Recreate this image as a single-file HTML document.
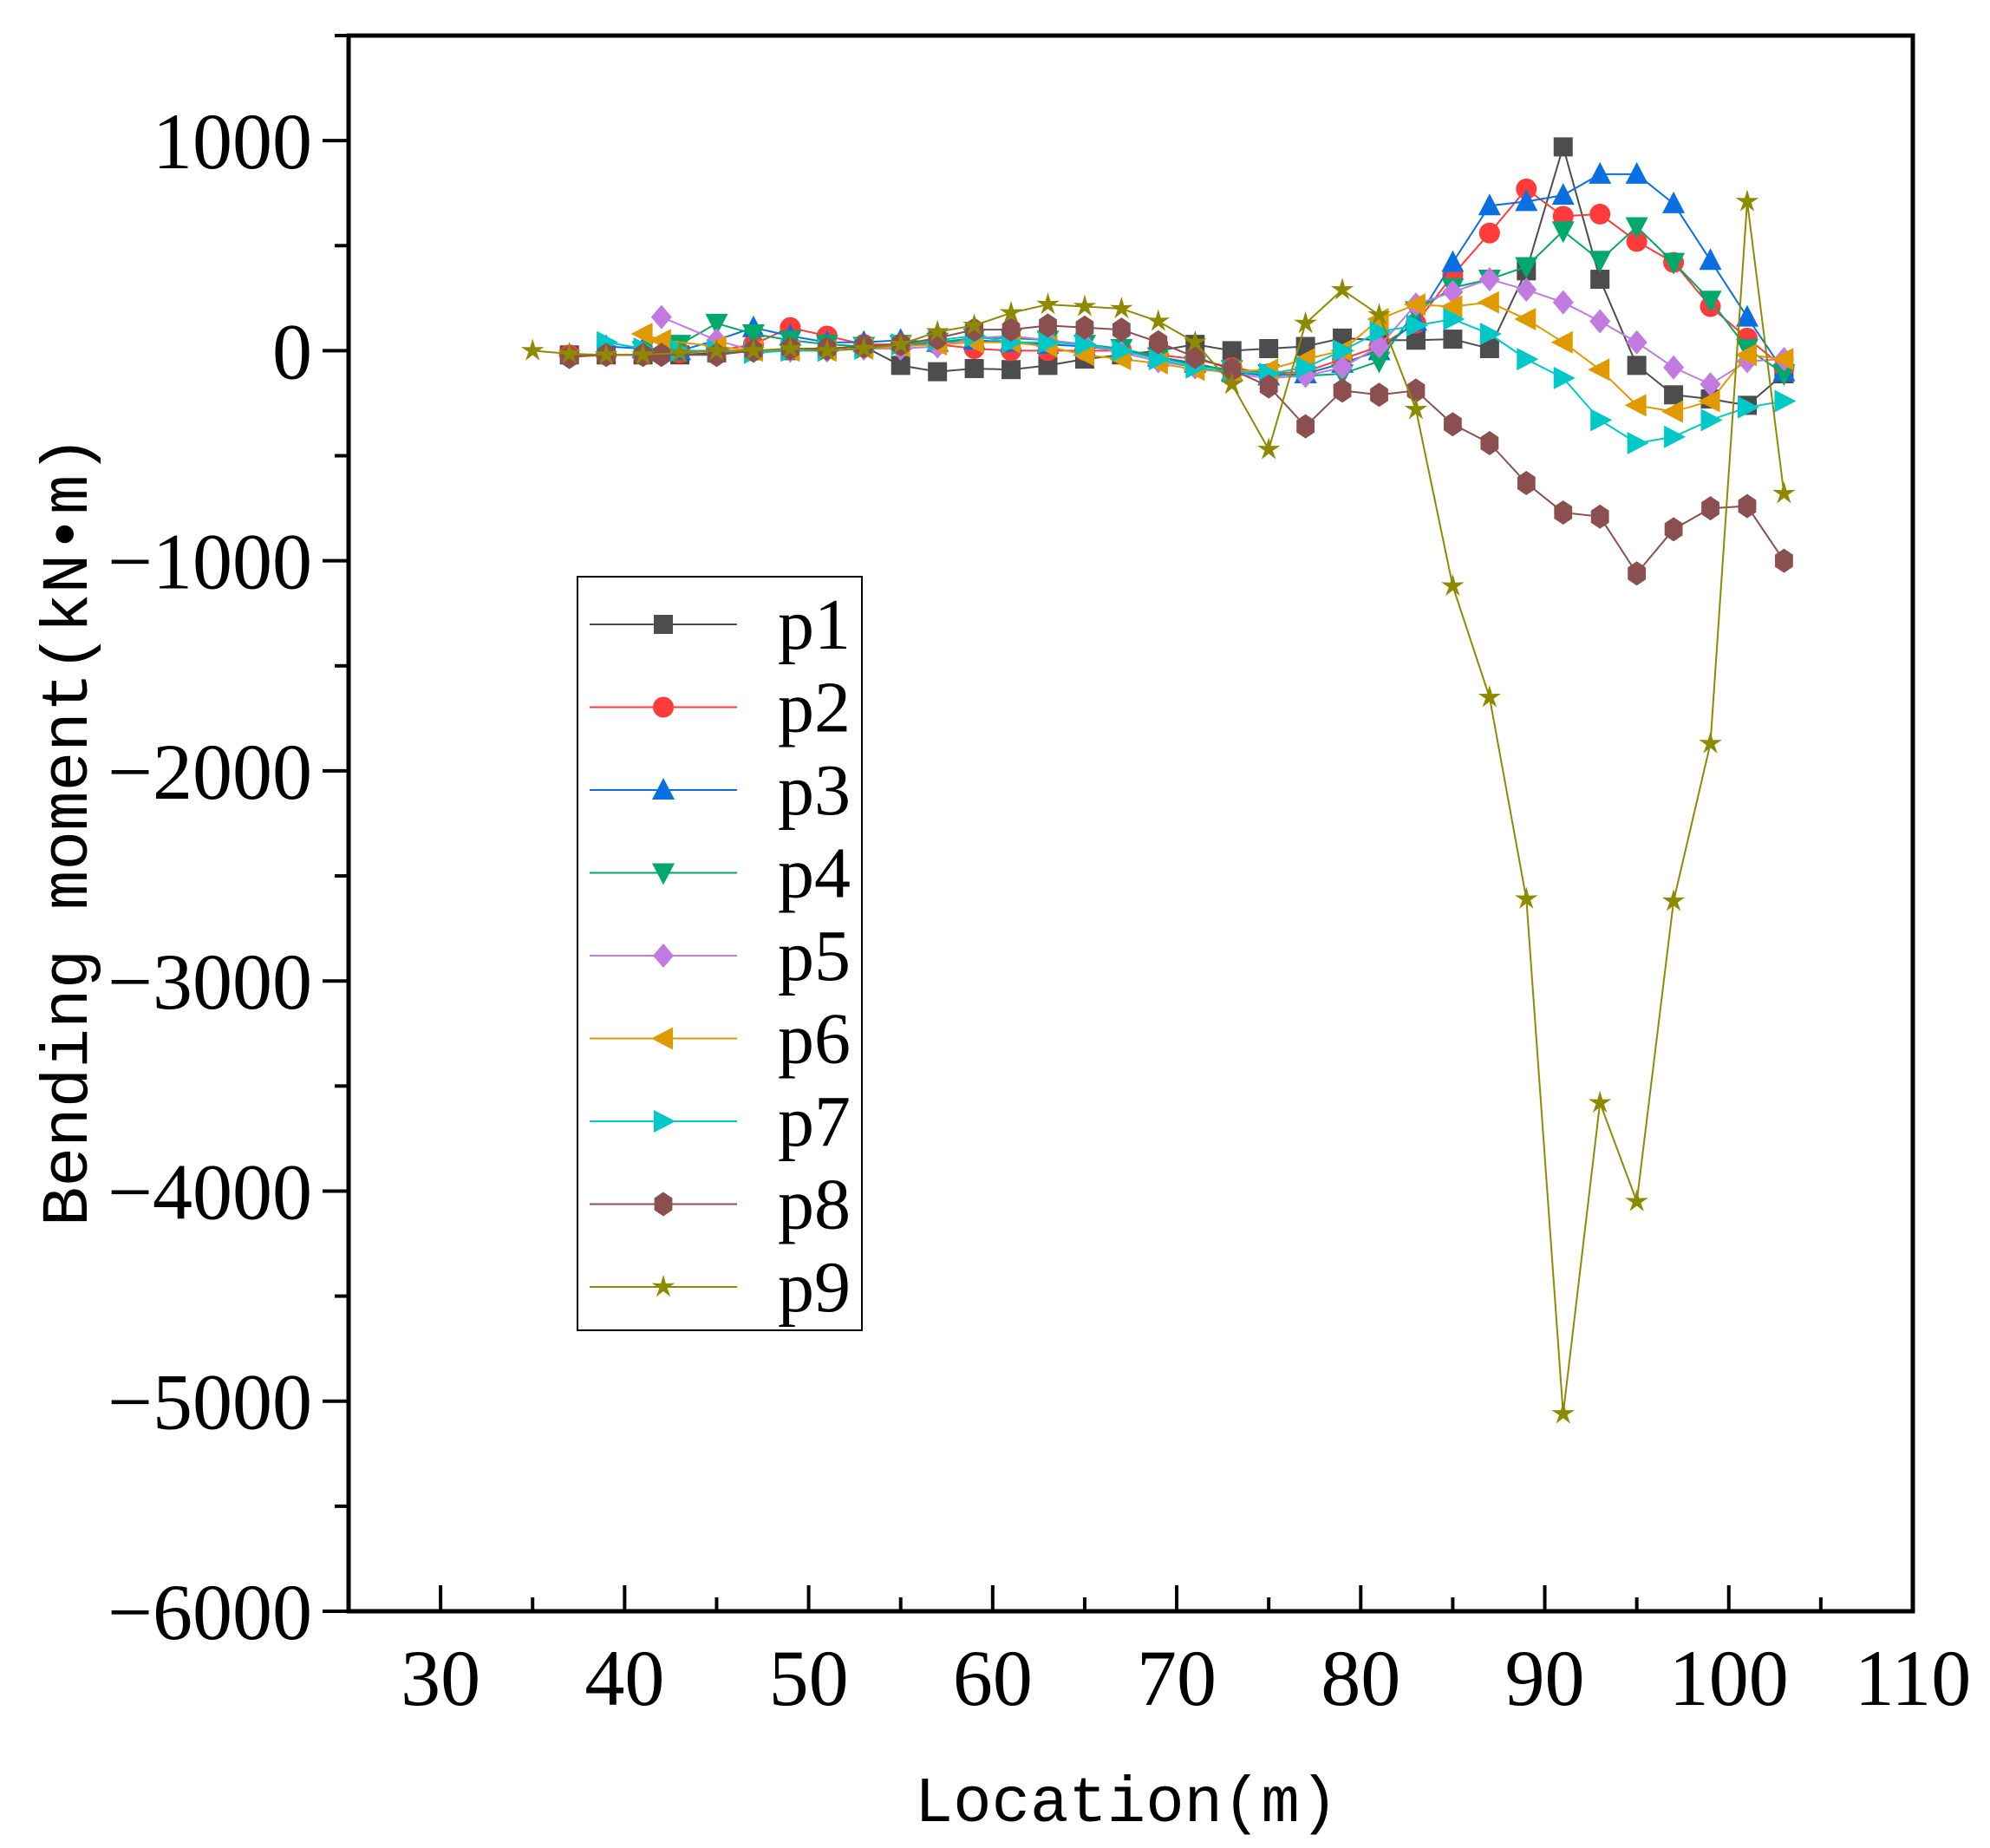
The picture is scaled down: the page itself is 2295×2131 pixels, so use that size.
<!DOCTYPE html>
<html><head><meta charset="utf-8"><style>
html,body{margin:0;padding:0;background:#fff}
svg{display:block}
text{font-family:"Liberation Serif","Noto Serif CJK SC",serif;fill:#000}
.tt{font-family:"Liberation Mono","Noto Sans CJK SC",monospace}
</style></head><body>
<svg id="chart" width="2295" height="2131" viewBox="0 0 2295 2131" xmlns="http://www.w3.org/2000/svg">
<g id="axes"></g>
<g id="series"></g>
<g id="legend"></g>
</svg>
<script>
const xTicks=[30,40,50,60,70,80,90,100,110];
const yTicks=[1000,0,-1000,-2000,-3000,-4000,-5000,-6000];
const seriesNames=["p1","p2","p3","p4","p5","p6","p7","p8","p9"];
const p1X=[37,39,41,43,45,47,49,51,53,55,57,59,61,63,65,67,69,71,73,75,77,79,81,83,85,87,89,91,93,95,97,99,101,103];
const p1Y=[-20,-20,-20,-20,-10,0,0,10,20,-70,-100,-85,-90,-70,-40,-20,0,30,0,10,20,60,50,50,55,10,380,970,340,-70,-210,-230,-260,-110];
const p2X=[37,39,41,43,45,47,49,51,53,55,57,59,61,63,65,67,69,71,73,75,77,79,81,83,85,87,89,91,93,95,97,99,101,103];
const p2Y=[-20,-20,-20,-10,0,30,110,70,30,30,30,10,0,0,0,0,-20,-40,-80,-110,-100,-40,20,130,360,560,770,640,650,520,420,210,60,-80];
const p3X=[39,41,43,45,47,49,51,53,55,57,59,61,63,65,67,69,71,73,75,77,79,81,83,85,87,89,91,93,95,97,99,101,103];
const p3Y=[20,10,0,50,110,70,40,40,50,40,50,40,30,20,0,-30,-60,-100,-120,-110,-60,0,140,420,690,710,740,840,840,700,430,160,-100];
const p4X=[41,43,45,47,49,51,53,55,57,59,61,63,65,67,69,71,73,75,77,79,81,83,85,87,89,91,93,95,97,99,101,103];
const p4Y=[0,30,130,80,50,30,20,30,40,60,60,50,30,10,-30,-70,-90,-110,-120,-110,-50,190,300,340,400,570,430,590,420,240,10,-110];
const p5X=[42,45,47,49,51,53,55,57,59,61,63,65,67,69,71,73,75,77,79,81,83,85,87,89,91,93,95,97,99,101,103];
const p5Y=[160,50,0,0,0,10,10,20,60,70,50,30,-10,-50,-80,-110,-130,-120,-80,20,220,280,340,290,230,140,40,-80,-160,-50,-40];
const p6X=[41,42,45,47,49,51,53,55,57,59,61,63,65,67,69,71,73,75,77,79,81,83,85,87,89,91,93,95,97,99,101,103];
const p6Y=[80,50,20,0,0,0,10,20,30,40,40,20,-20,-40,-60,-90,-100,-90,-40,0,150,220,210,230,150,40,-90,-260,-290,-240,-20,-40];
const p7X=[39,41,43,45,47,49,51,53,55,57,59,61,63,65,67,69,71,73,75,77,79,81,83,85,87,89,91,93,95,97,99,101,103];
const p7Y=[40,10,0,0,-10,0,0,10,30,50,70,40,40,30,0,-40,-80,-100,-110,-80,0,90,120,150,80,-40,-130,-330,-440,-410,-330,-270,-240];
const p8X=[37,39,41,42,45,47,49,51,53,55,57,59,61,63,65,67,69,71,73,75,77,79,81,83,85,87,89,91,93,95,97,99,101,103];
const p8Y=[-30,-20,-20,-20,-20,0,10,10,20,30,60,100,100,120,110,100,40,-30,-90,-170,-360,-190,-210,-190,-350,-440,-630,-770,-790,-1060,-850,-750,-740,-1000];
const p9X=[35,37,39,41,43,45,47,49,51,53,55,57,59,61,63,65,67,69,71,73,75,77,79,81,83,85,87,89,91,93,95,97,99,101,103];
const p9Y=[0,-15,-20,-20,-10,0,0,10,0,10,30,90,120,180,220,210,200,140,40,-160,-470,130,290,170,-280,-1120,-1650,-2610,-5060,-3580,-4050,-2620,-1870,710,-680];

const L=402,R=2206,T=41,B=1858;
const xMin=25,xMax=110,yMin=-6000,yMax=1500;
function sx(v){return L+(v-xMin)/(xMax-xMin)*(R-L);}
function sy(v){return B-(v-yMin)/(yMax-yMin)*(B-T);}
const NS="http://www.w3.org/2000/svg";
function mk(tag,attrs,parent){const e=document.createElementNS(NS,tag);for(const k in attrs)e.setAttribute(k,attrs[k]);parent.appendChild(e);return e;}
const axes=document.getElementById('axes');
const frame=mk('rect',{x:L,y:T,width:R-L,height:B-T,fill:'none',stroke:'#000','stroke-width':5},axes);


for(let v=30;v<=105;v+=5){
  const major=v%10===0;
  const t=mk('line',{x1:sx(v),x2:sx(v),y1:B,y2:B-(major?30:16),stroke:'#000','stroke-width':4},axes);
  
  
}
xTicks.forEach(v=>{
  const t=mk('text',{x:sx(v),y:B+108,'text-anchor':'middle','font-size':92},axes);
  t.textContent=v;
  
  
});
for(let v=-6000;v<=1500;v+=500){
  const major=v%1000===0;
  const t=mk('line',{x1:L,x2:L-(major?30:16),y1:sy(v),y2:sy(v),stroke:'#000','stroke-width':4},axes);
  
  
}
yTicks.forEach(v=>{
  const t=mk('text',{x:L-42,y:sy(v)+32,'text-anchor':'end','font-size':92},axes);
  t.textContent=v<0?'\u2212'+(-v):v;
  
  
});
const xt=mk('text',{x:1299,y:2100,'text-anchor':'middle','font-size':74,'class':'tt'},axes);
xt.textContent='Location(m)';


const yt=mk('text',{x:0,y:0,'text-anchor':'middle','font-size':76,'class':'tt',transform:'translate(100,958) rotate(-90)'},axes);
yt.textContent='Bending moment(kN\u2022m)';



const colors=['#4d4d4d','#ff3b3b','#0a6fe0','#00a86b','#c07ae0','#e09a00','#00c8c8','#8b4f4f','#8e8a00'];
const shapes=['square','circle','up','down','diamond','left','right','hex','star'];
const xs=[p1X,p2X,p3X,p4X,p5X,p6X,p7X,p8X,p9X];
const ys=[p1Y,p2Y,p3Y,p4Y,p5Y,p6Y,p7Y,p8Y,p9Y];
function marker(shape,cx,cy,color,parent){
  const s=11;let el;
  if(shape==='square')el=mk('rect',{x:cx-s,y:cy-s,width:2*s,height:2*s,fill:color},parent);
  else if(shape==='circle')el=mk('circle',{cx:cx,cy:cy,r:s+1,fill:color},parent);
  else{
    let pts=[];
    if(shape==='up')pts=[[0,-s-3],[s+2,s],[-s-2,s]];
    if(shape==='down')pts=[[0,s+3],[s+2,-s],[-s-2,-s]];
    if(shape==='left')pts=[[-s-3,0],[s,-s-2],[s,s+2]];
    if(shape==='right')pts=[[s+3,0],[-s,-s-2],[-s,s+2]];
    if(shape==='diamond')pts=[[0,-s-3],[s+1,0],[0,s+3],[-s-1,0]];
    if(shape==='hex')for(let i=0;i<6;i++){const a=Math.PI/6+i*Math.PI/3;pts.push([Math.cos(a)*(s+1),Math.sin(a)*(s+3)]);}
    if(shape==='star')for(let i=0;i<10;i++){const a=-Math.PI/2+i*Math.PI/5;const r=i%2?s*0.45:s+3;pts.push([Math.cos(a)*r,Math.sin(a)*r]);}
    el=mk('polygon',{points:pts.map(p=>(cx+p[0])+','+(cy+p[1])).join(' '),fill:color},parent);
  }
  return el;
}
const sg=document.getElementById('series');
seriesNames.forEach((n,i)=>{
  const g=mk('g',{},sg);
  
  
  const d=xs[i].map((x,j)=>(j?'L':'M')+sx(x)+','+sy(ys[i][j])).join('');
  const pl=mk('path',{d:d,fill:'none',stroke:colors[i],'stroke-width':2},g);
  
  
  xs[i].forEach((x,j)=>{
    const m=marker(shapes[i],sx(x),sy(ys[i][j]),colors[i],g);
    
    
  });
});
const lg=document.getElementById('legend');
const box=mk('rect',{x:666,y:665,width:328,height:869,fill:'#fff',stroke:'#000','stroke-width':2},lg);


seriesNames.forEach((n,i)=>{
  const y=720+i*95.5;
  const g=mk('g',{},lg);
  
  
  mk('line',{x1:680,x2:850,y1:y,y2:y,stroke:colors[i],'stroke-width':2},g);
  marker(shapes[i],765,y,colors[i],g);
  const t=mk('text',{x:897,y:y+28,'font-size':84},g);
  t.textContent=n;
});
</script>
</body></html>
